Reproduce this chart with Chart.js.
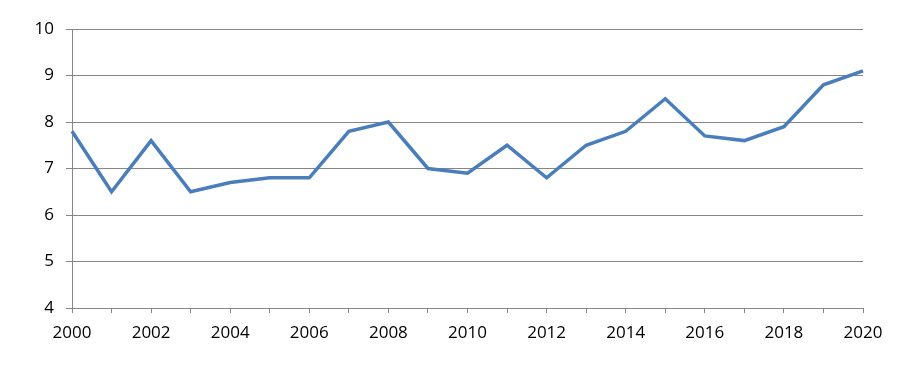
<!DOCTYPE html>
<html>
<head>
<meta charset="utf-8">
<script src="https://cdn.jsdelivr.net/npm/chart.js@4"></script>
<style>
  html, body { margin: 0; padding: 0; background: #fff; }
  #wrap { width: 912px; height: 375px; }
</style>
</head>
<body>
<div id="wrap"><canvas id="lineChart"></canvas></div>
<script>
// years on the x axis (labels shown on even years only)
const years = [2000, 2001, 2002, 2003, 2004, 2005, 2006, 2007, 2008, 2009, 2010,
               2011, 2012, 2013, 2014, 2015, 2016, 2017, 2018, 2019, 2020];
// series values
const values = [7.8, 6.5, 7.6, 6.5, 6.7, 6.8, 6.8, 7.8, 8.0, 7.0, 6.9,
                7.5, 6.8, 7.5, 7.8, 8.5, 7.7, 7.6, 7.9, 8.8, 9.1];
const yMin = 4, yMax = 10;

const axisGray = '#868686';
const tickFont = { family: "'Open Sans', sans-serif", size: 17 };

new Chart(document.getElementById('lineChart'), {
    type: 'line',
    data: {
        labels: years.map(String),
        datasets: [{
            data: values,
            borderColor: '#4a7ebb',
            borderWidth: 3.5,
            pointRadius: 0,
            tension: 0,
            fill: false
        }]
    },
    options: {
        responsive: true,
        maintainAspectRatio: false,
        animation: false,
        layout: { padding: { top: 29, right: 49, left: 0, bottom: 0 } },
        plugins: { legend: { display: false }, tooltip: { enabled: false } },
        scales: {
            x: {
                offset: false,
                grid: { drawOnChartArea: false, drawTicks: true, tickLength: 5, color: axisGray },
                border: { color: axisGray },
                ticks: {
                    autoSkip: false, maxRotation: 0, padding: 10, color: '#000', font: tickFont,
                    callback: (v, i) => (years[i] % 2 === 0 ? String(years[i]) : '')
                },
                afterFit: s => { s.height = 67; }
            },
            y: {
                min: yMin, max: yMax,
                grid: { color: axisGray, tickLength: 6 },
                border: { color: axisGray },
                ticks: { stepSize: 1, padding: 12, color: '#000', font: tickFont },
                afterFit: s => { s.width = 72; }
            }
        }
    }
});
</script>
</body>
</html>
